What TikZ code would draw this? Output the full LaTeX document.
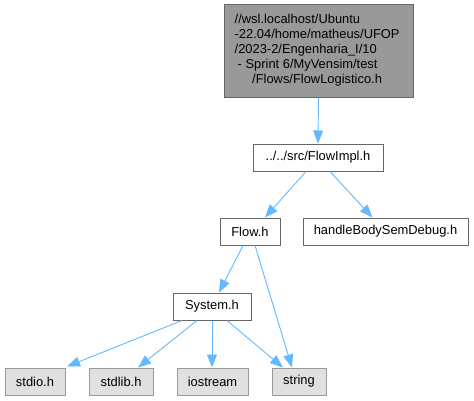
\documentclass[tikz,border=0pt]{standalone}
\usepackage{fontspec}
\setmainfont{Liberation Sans}
\usetikzlibrary{arrows.meta}
\definecolor{edgec}{HTML}{63B8FF}
\definecolor{topfill}{HTML}{999999}
\definecolor{boxline}{HTML}{666666}
\definecolor{extfill}{HTML}{E0E0E0}
\definecolor{extline}{HTML}{999999}
\tikzset{
  base/.style={draw, line width=1pt, inner sep=0pt, minimum height=27pt, font=\fontsize{12.9}{15}\selectfont},
  filebox/.style={base, draw=boxline, fill=white},
  extbox/.style={base, draw=extline, fill=extfill},
  topbox/.style={base, draw=boxline, fill=topfill},
  conn/.style={draw=edgec, line width=0.9pt, -{Triangle[length=13pt,width=10pt]}}
}
\begin{document}
\begin{tikzpicture}[x=1pt,y=-1pt]
\useasboundingbox (0,0) rectangle (474,400);
\node[topbox, minimum width=189pt, minimum height=93pt] (top) at (318.5,50.5) {};
\node[anchor=west, align=left, inner sep=0pt, font=\fontsize{12.9}{15}\selectfont] (toptext) at (234.5,50.5)
 {//wsl.localhost/Ubuntu\\-22.04/home/matheus/UFOP\\/2023-2/Engenharia\_I/10\\\hspace*{3pt}- Sprint 6/MyVensim/test\\\hspace*{17.5pt}/Flows/FlowLogistico.h};
\node[filebox, minimum width=130pt] (flowimpl) at (318,157.5) {../../src/FlowImpl.h};
\node[filebox, minimum width=60pt] (flow) at (250,231.5) {Flow.h};
\node[filebox, minimum width=165pt] (handle) at (385.5,231.5) {handleBodySemDebug.h};
\node[filebox, minimum width=78pt] (system) at (212,306.5) {System.h};
\node[extbox, minimum width=60pt] (stdio) at (35,381.5) {stdio.h};
\node[extbox, minimum width=64pt] (stdlib) at (121,381.5) {stdlib.h};
\node[extbox, minimum width=71pt] (iostream) at (212.5,381.5) {iostream};
\node[extbox, minimum width=54pt] (string) at (299,381.5) {string};
\draw[conn] (top.south) -- (flowimpl.north);
\draw[conn] ([xshift=-12pt]flowimpl.south) -- ([xshift=15pt]flow.north);
\draw[conn] ([xshift=12pt]flowimpl.south) -- ([xshift=-13pt]handle.north);
\draw[conn] ([xshift=-7pt]flow.south) -- ([xshift=7pt]system.north);
\draw[conn] ([xshift=5pt]flow.south) -- ([xshift=-7pt]string.north);
\draw[conn] ([xshift=-30pt]system.south) -- ([xshift=32pt,yshift=1pt]stdio.north);
\draw[conn] ([xshift=-15pt]system.south) -- ([xshift=17pt]stdlib.north);
\draw[conn] (system.south) -- (system.south |- iostream.north);
\draw[conn] ([xshift=15pt]system.south) -- ([xshift=-16pt]string.north);
\end{tikzpicture}
\end{document}
